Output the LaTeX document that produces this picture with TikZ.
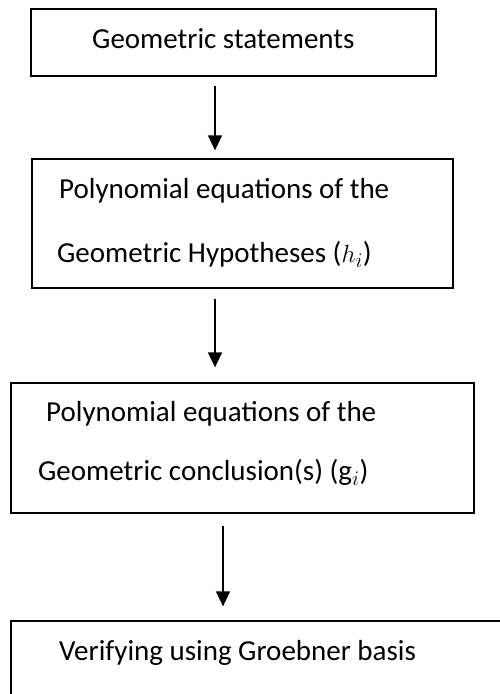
\documentclass[tikz,border=0pt]{standalone}
\usepackage{fontspec}
\setmainfont{Carlito}
\usetikzlibrary{positioning, arrows.meta}

\begin{document}
\begin{tikzpicture}[
  x=1pt, y=-1pt,
  font=\fontsize{29}{35}\selectfont,
  >={Triangle[width=14pt,length=15pt]},
  %% Node styles
  box/.style={draw, line width=1.3pt, inner sep=0pt},
  txt/.style={anchor=base west, inner sep=0pt},
  flow/.style={->, line width=1.8pt},
]

\useasboundingbox (0,0) rectangle (500,694);
\clip (0,0) rectangle (500,694);

%% ── BOXES ─────────────────────────────────────────────────────────────────
\node[box, minimum width=405pt, minimum height=67pt]  (stmt) at (233.5,42.5)  {};
\node[box, minimum width=421pt, minimum height=129pt] (hyp)  at (242.5,223.5) {};
\node[box, minimum width=463pt, minimum height=130pt] (conc) at (242.5,448)   {};
\node[box, minimum width=509pt, minimum height=99pt]  (verf) at (265.5,670.5) {};

%% ── TEXTS ─────────────────────────────────────────────────────────────────
\node[txt] (stmtTxt) at (92,48)  {Geometric statements};
\node[txt] (hypA)    at (59,198) {Polynomial equations of the};
\node[txt] (hypB)    at (57,262) {Geometric Hypotheses ($h_i$)};
\node[txt] (concA)   at (46,421) {Polynomial equations of the};
\node[txt] (concB)   at (38,480) {Geometric conclusion(s) ($\mathrm{g}_i$)};
\node[txt] (verfTxt) at (59,660) {Verifying using Groebner basis};

%% ── ARROWS ────────────────────────────────────────────────────────────────
\draw[flow, shorten <=9pt,  shorten >=8pt]  (stmt.south -| 215,0) -- (hyp.north -| 215,0);
\draw[flow, shorten <=10pt, shorten >=15pt] (hyp.south -| 215,0)  -- (conc.north -| 215,0);
\draw[flow, shorten <=12pt, shorten >=14pt] (conc.south -| 223,0) -- (verf.north -| 223,0);

\end{tikzpicture}
\end{document}
